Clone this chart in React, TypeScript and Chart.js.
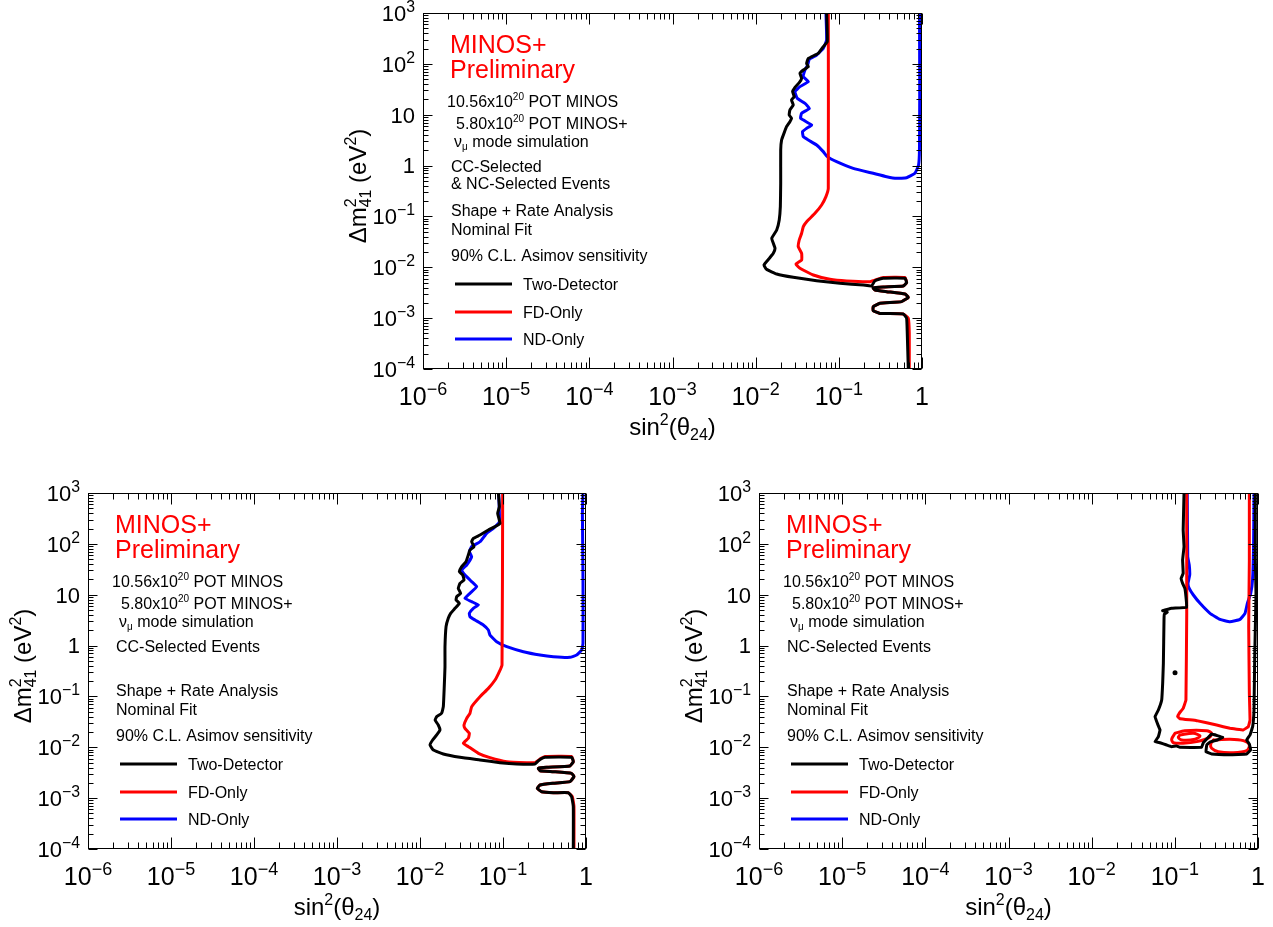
import React, { useEffect, useRef } from 'react';
import { Chart, registerables } from 'chart.js';

Chart.register(...registerables);

const FONT = '"Liberation Sans", Arial, Helvetica, sans-serif';

// Axis decades: sin^2(theta_24) from 1e-6 to 1, dm^2_41 from 1e-4 to 1e3
const X_DECADES = [-6, -5, -4, -3, -2, -1, 0];
const Y_DECADES = [-4, -3, -2, -1, 0, 1, 2, 3];

// ---- CC + NC combined analysis ----
const combTwoDetSin2 = [0.0713, 0.0726, 0.0650, 0.0566, 0.0430, 0.0410, 0.0430, 0.0374, 0.0341, 0.0357, 0.0334, 0.0297, 0.0278, 0.0291, 0.0270, 0.0283, 0.0258, 0.0253, 0.0270, 0.0258, 0.0235, 0.0219, 0.0205, 0.0200, 0.0200, 0.0198, 0.0192, 0.0179, 0.0156, 0.0163, 0.0171, 0.0163, 0.0146, 0.0126, 0.0135, 0.0179, 0.0283, 0.0541, 0.103, 0.197, 0.248, 0.272, 0.342, 0.624, 0.653, 0.595, 0.342, 0.259, 0.272, 0.376, 0.624, 0.684, 0.569, 0.312, 0.259, 0.259, 0.312, 0.595, 0.653, 0.665, 0.684];
const combTwoDetDm2 = [1000, 273, 218, 161, 128, 102, 88, 75.7, 65.2, 51.9, 42.7, 34.6, 28.4, 22.6, 19.5, 15.5, 12.4, 9.87, 8.49, 7.30, 5.82, 4.31, 3.18, 2.02, 0.447, 0.156, 0.0851, 0.0541, 0.0371, 0.0296, 0.0236, 0.0188, 0.0150, 0.0111, 0.00912, 0.00738, 0.00635, 0.00546, 0.00484, 0.00448, 0.00429, 0.00546, 0.00607, 0.00607, 0.00499, 0.00429, 0.00410, 0.00392, 0.00358, 0.00332, 0.00298, 0.00257, 0.00211, 0.00196, 0.00168, 0.00140, 0.00124, 0.00121, 0.000993, 0.000504, 0.0001];

const combFdSin2 = [0.0747, 0.0747, 0.0700, 0.0621, 0.0516, 0.0410, 0.0374, 0.0357, 0.0334, 0.0325, 0.0357, 0.0357, 0.0305, 0.0341, 0.0493, 0.0782, 0.124, 0.237, 0.342, 0.624, 0.653, 0.595, 0.342, 0.259, 0.272, 0.376, 0.624, 0.684, 0.569, 0.312, 0.259, 0.259, 0.312, 0.595, 0.684, 0.703, 0.703];
const combFdDm2 = [1000, 0.357, 0.245, 0.168, 0.115, 0.0789, 0.0629, 0.0466, 0.0344, 0.0255, 0.0188, 0.0139, 0.0116, 0.00955, 0.00706, 0.00580, 0.00538, 0.00522, 0.0063, 0.0063, 0.00499, 0.00429, 0.00410, 0.00392, 0.00358, 0.00332, 0.00298, 0.00257, 0.00211, 0.00196, 0.00168, 0.00140, 0.00124, 0.00121, 0.000993, 0.000504, 0.0001];

const combNdSin2 = [0.0700, 0.0713, 0.0650, 0.0541, 0.0442, 0.0422, 0.0392, 0.0374, 0.0430, 0.0341, 0.0297, 0.0316, 0.0392, 0.0442, 0.0357, 0.0347, 0.0471, 0.0410, 0.0366, 0.0374, 0.0430, 0.0541, 0.0650, 0.0726, 0.094, 0.149, 0.259, 0.376, 0.495, 0.653, 0.822, 0.910, 0.932, 0.938, 0.936, 0.932];
const combNdDm2 = [1000, 295, 202, 149, 123, 95, 75.7, 56, 44.7, 35.6, 28.4, 21, 16.7, 13.3, 10.65, 8.49, 6.28, 5.40, 4.64, 3.70, 3.18, 2.54, 1.88, 1.50, 1.19, 0.88, 0.704, 0.605, 0.561, 0.578, 0.704, 1.03, 2.02, 19.5, 187, 1000];

// ---- CC-selected events ----
const ccTwoDetSin2 = [0.0879, 0.0904, 0.0863, 0.0920, 0.0802, 0.0666, 0.0528, 0.0439, 0.0419, 0.0447, 0.0400, 0.0382, 0.0358, 0.0318, 0.0298, 0.0327, 0.0339, 0.0303, 0.0289, 0.0309, 0.0277, 0.0272, 0.0298, 0.0264, 0.0234, 0.0219, 0.0206, 0.0200, 0.0200, 0.0196, 0.0191, 0.0182, 0.0159, 0.0152, 0.0166, 0.0174, 0.0159, 0.0142, 0.0132, 0.0145, 0.0191, 0.0303, 0.0528, 0.0920, 0.146, 0.243, 0.267, 0.321, 0.671, 0.703, 0.641, 0.336, 0.267, 0.279, 0.404, 0.671, 0.716, 0.641, 0.404, 0.279, 0.259, 0.292, 0.404, 0.612, 0.671, 0.703, 0.703];
const ccTwoDetDm2 = [1000, 539, 398, 253, 218, 187, 149, 128, 110, 88, 75.7, 60.4, 44.7, 35.6, 28.4, 24.4, 19.5, 16.7, 13.3, 10.65, 9.16, 7.88, 6.77, 5.40, 4.31, 3.43, 2.35, 0.951, 0.385, 0.156, 0.0629, 0.0466, 0.0400, 0.0344, 0.0274, 0.0219, 0.0175, 0.0139, 0.0111, 0.00885, 0.00738, 0.00635, 0.00563, 0.00499, 0.00470, 0.00470, 0.00546, 0.00635, 0.00635, 0.00522, 0.00429, 0.00404, 0.00386, 0.00347, 0.00332, 0.00307, 0.00265, 0.00211, 0.00196, 0.00181, 0.00156, 0.00134, 0.00128, 0.00128, 0.00107, 0.000681, 0.0001];

const ccFdSin2 = [0.0991, 0.0973, 0.0904, 0.0802, 0.0666, 0.0528, 0.0419, 0.0400, 0.0365, 0.0339, 0.0348, 0.0393, 0.0382, 0.0333, 0.0382, 0.0505, 0.0697, 0.111, 0.193, 0.243, 0.284, 0.321, 0.671, 0.703, 0.641, 0.336, 0.267, 0.279, 0.404, 0.671, 0.716, 0.641, 0.404, 0.279, 0.259, 0.292, 0.404, 0.612, 0.684, 0.716, 0.716];
const ccFdDm2 = [1000, 0.415, 0.307, 0.210, 0.144, 0.0989, 0.0629, 0.0466, 0.0371, 0.0274, 0.0236, 0.0188, 0.0150, 0.0120, 0.0103, 0.00761, 0.00626, 0.00522, 0.00499, 0.00499, 0.00598, 0.0066, 0.0066, 0.00522, 0.00429, 0.00404, 0.00386, 0.00347, 0.00332, 0.00307, 0.00265, 0.00211, 0.00196, 0.00181, 0.00156, 0.00134, 0.00128, 0.00128, 0.00107, 0.000681, 0.0001];

const ccNdSin2 = [0.920, 0.905, 0.920, 0.920, 0.887, 0.772, 0.641, 0.404, 0.279, 0.176, 0.111, 0.0839, 0.0697, 0.0666, 0.0579, 0.0460, 0.0400, 0.0393, 0.0439, 0.0505, 0.0419, 0.0348, 0.0400, 0.0482, 0.0419, 0.0348, 0.0318, 0.0365, 0.0419, 0.0393, 0.0419, 0.0528, 0.0635, 0.0765, 0.0904, 0.0888];
const ccNdDm2 = [1000, 398, 19.5, 1.11, 0.818, 0.653, 0.587, 0.605, 0.653, 0.758, 0.951, 1.19, 1.61, 2.02, 2.54, 3.18, 3.70, 4.31, 5.40, 6.28, 7.30, 8.49, 10.65, 14.4, 18.1, 24.4, 30.6, 38.4, 56, 70.3, 88, 110, 161, 202, 273, 1000];

// ---- NC-selected events ----
const ncTwoDetSin2 = [0.129, 0.126, 0.129, 0.124, 0.126, 0.119, 0.124, 0.132, 0.136, 0.139, 0.0916, 0.0714, 0.0813, 0.0748, 0.0741, 0.0728, 0.0714, 0.0695, 0.0634, 0.0578, 0.0616, 0.0664, 0.0634, 0.0578, 0.0664, 0.0798, 0.0916, 0.105, 0.115, 0.210, 0.220, 0.277, 0.376, 0.324, 0.265, 0.242, 0.237, 0.277, 0.460, 0.731, 0.817, 0.787, 0.731, 0.802, 0.863, 0.895, 0.912, 0.929, 0.946, 0.929, 0.929];
const ncTwoDetDm2 = [1000, 187, 88, 48.2, 26.3, 21, 16.7, 13.3, 9.16, 5.65, 5.40, 4.86, 4.50, 4.18, 3.18, 0.447, 0.181, 0.0851, 0.0541, 0.0400, 0.0296, 0.0219, 0.0162, 0.0129, 0.0123, 0.0111, 0.0103, 0.0106, 0.00998, 0.00998, 0.0123, 0.0182, 0.0157, 0.0139, 0.0127, 0.0111, 0.00820, 0.00738, 0.00716, 0.00738, 0.00885, 0.0116, 0.0139, 0.0175, 0.0255, 0.0541, 0.520, 2.35, 10.65, 48.2, 1000];
const ncTwoDetIslandSin2 = [0.1005];
const ncTwoDetIslandDm2 = [0.293];

const ncFdSin2 = [0.139, 0.139, 0.136, 0.126, 0.113, 0.108, 0.115, 0.183, 0.318, 0.460, 0.667, 0.766, 0.802, 0.787, 0.773, 0.787, 0.787];
const ncFdDm2 = [1000, 4.31, 0.0851, 0.0584, 0.0466, 0.0400, 0.0365, 0.0334, 0.0274, 0.0236, 0.0219, 0.0255, 0.0344, 0.115, 2.35, 48.2, 1000];
const ncFdLoopOuterSin2 = [0.1005, 0.132, 0.242, 0.277, 0.260, 0.183, 0.126, 0.0960, 0.0916, 0.1005];
const ncFdLoopOuterDm2 = [0.0188, 0.0212, 0.0212, 0.0188, 0.0157, 0.0129, 0.0120, 0.0123, 0.0144, 0.0188];
const ncFdLoopInnerSin2 = [0.115, 0.167, 0.201, 0.175, 0.121, 0.110, 0.115];
const ncFdLoopInnerDm2 = [0.0175, 0.0188, 0.0167, 0.0144, 0.0139, 0.0157, 0.0175];
const ncFdLoopLowSin2 = [0.290, 0.460, 0.667, 0.787, 0.731, 0.505, 0.333, 0.277, 0.270, 0.290];
const ncFdLoopLowDm2 = [0.0139, 0.0144, 0.0135, 0.0111, 0.00859, 0.00783, 0.00820, 0.00955, 0.0116, 0.0139];

const ncNdSin2 = [0.896, 0.884, 0.860, 0.817, 0.745, 0.698, 0.608, 0.460, 0.349, 0.265, 0.201, 0.167, 0.149, 0.144, 0.151, 0.149, 0.143, 0.141];
const ncNdDm2 = [1000, 88, 19.5, 10.65, 6.77, 4.31, 3.28, 2.95, 3.28, 4.31, 6.77, 9.87, 13.3, 16.7, 24.4, 38.4, 56, 1000];

const LEGEND_LABELS = ['Two-Detector', 'FD-Only', 'ND-Only'];
const LEGEND_COLORS = ['#000000', '#ff0000', '#0000ff'];

const pts = (xs: number[], ys: number[]) => xs.map((x, i) => ({ x, y: ys[i] }));

const curve = (xs: number[], ys: number[], color: string, tension = 0.12) => ({
  data: pts(xs, ys),
  showLine: true,
  borderColor: color,
  backgroundColor: color,
  borderWidth: 3,
  pointRadius: 0,
  tension,
  fill: false,
  borderJoinStyle: 'round',
  borderCapStyle: 'round',
});

type Run = { t: string; s: number; dy?: number; stay?: boolean };

function runsWidth(ctx: CanvasRenderingContext2D, runs: Run[]) {
  let w = 0;
  let held = 0;
  for (const r of runs) {
    ctx.font = `${r.s}px ${FONT}`;
    const rw = ctx.measureText(r.t).width;
    if (r.stay) { held = Math.max(held, rw); continue; }
    w += Math.max(rw, held);
    held = 0;
  }
  return w + held;
}

function drawRuns(ctx: CanvasRenderingContext2D, runs: Run[], x: number, y: number, align: 'left' | 'right' | 'center') {
  const total = runsWidth(ctx, runs);
  let cx = align === 'left' ? x : align === 'right' ? x - total : x - total / 2;
  let held = 0;
  ctx.textAlign = 'left';
  ctx.textBaseline = 'alphabetic';
  for (const r of runs) {
    ctx.font = `${r.s}px ${FONT}`;
    const rw = ctx.measureText(r.t).width;
    ctx.fillText(r.t, cx, y + (r.dy || 0));
    if (r.stay) { held = Math.max(held, rw); continue; }
    cx += Math.max(rw, held);
    held = 0;
  }
}

const XF = 25; // x tick label size
const YF = 22; // y tick label size

function decadeLabel(d: number, size: number): Run[] {
  if (d === 0) return [{ t: '1', s: size }];
  if (d === 1) return [{ t: '10', s: size }];
  const exp = d < 0 ? '\u2212' + String(-d) : String(d);
  return [{ t: '10', s: size }, { t: exp, s: size * 0.72, dy: -size * 0.42 }];
}

type PanelSpec = {
  key: string;
  canvas: { left: number; top: number; w: number; h: number };
  plot: { x: number; y: number; w: number; h: number };
  selection: string[];
  datasets: any[];
};

function makeDecorPlugin(spec: PanelSpec) {
  return {
    id: 'decor_' + spec.key,
    afterDraw(chart: any) {
      const ctx: CanvasRenderingContext2D = chart.ctx;
      const a = chart.chartArea;
      const xs = chart.scales.x;
      const ys = chart.scales.y;
      ctx.save();

      // frame
      ctx.strokeStyle = '#000';
      ctx.lineWidth = 1;
      const L = Math.round(a.left) + 0.5;
      const R = Math.round(a.right) - 0.5;
      const T = Math.round(a.top) + 0.5;
      const B = Math.round(a.bottom) - 0.5;
      ctx.strokeRect(L, T, R - L, B - T);

      // ticks, drawn inward on all four sides
      ctx.beginPath();
      for (const d of X_DECADES) {
        for (let k = 1; k <= 9; k++) {
          if (d === 0 && k > 1) break;
          const X = Math.round(xs.getPixelForValue(k * Math.pow(10, d))) + 0.5;
          const len = k === 1 ? 11 : 6;
          ctx.moveTo(X, B); ctx.lineTo(X, B - len);
          ctx.moveTo(X, T); ctx.lineTo(X, T + len);
        }
      }
      for (const d of Y_DECADES) {
        for (let k = 1; k <= 9; k++) {
          if (d === 3 && k > 1) break;
          const Y = Math.round(ys.getPixelForValue(k * Math.pow(10, d))) + 0.5;
          const len = k === 1 ? 9 : 5;
          ctx.moveTo(L, Y); ctx.lineTo(L + len, Y);
          ctx.moveTo(R, Y); ctx.lineTo(R - len, Y);
        }
      }
      ctx.stroke();

      // tick labels
      ctx.fillStyle = '#000';
      for (const d of X_DECADES) {
        const X = xs.getPixelForValue(Math.pow(10, d));
        drawRuns(ctx, decadeLabel(d, XF), X, a.bottom + 36, 'center');
      }
      for (const d of Y_DECADES) {
        const Y = ys.getPixelForValue(Math.pow(10, d));
        drawRuns(ctx, decadeLabel(d, YF), a.left - 8, Y + YF * 0.36, 'right');
      }

      // axis titles
      drawRuns(ctx, [
        { t: 'sin', s: 24 },
        { t: '2', s: 16, dy: -10 },
        { t: '(\u03b8', s: 24 },
        { t: '24', s: 16, dy: 5 },
        { t: ')', s: 24 },
      ], (a.left + a.right) / 2, a.bottom + 66, 'center');

      ctx.save();
      ctx.translate(a.left - 57, a.top + 173);
      ctx.rotate(-Math.PI / 2);
      drawRuns(ctx, [
        { t: '\u0394m', s: 24 },
        { t: '2', s: 16, dy: -10, stay: true },
        { t: '41', s: 16, dy: 5 },
        { t: ' (eV', s: 24 },
        { t: '2', s: 16, dy: -10 },
        { t: ')', s: 24 },
      ], 0, 0, 'center');
      ctx.restore();

      // annotation block
      const px = a.left;
      const py = a.top;
      ctx.fillStyle = '#ff0000';
      ctx.font = `25px ${FONT}`;
      ctx.fillText('MINOS+', px + 27, py + 40);
      ctx.fillText('Preliminary', px + 27, py + 65);

      ctx.fillStyle = '#000';
      drawRuns(ctx, [{ t: '10.56x10', s: 16 }, { t: '20', s: 10, dy: -7 }, { t: ' POT MINOS', s: 16 }], px + 24, py + 94, 'left');
      drawRuns(ctx, [{ t: '5.80x10', s: 16 }, { t: '20', s: 10, dy: -7 }, { t: ' POT MINOS+', s: 16 }], px + 33, py + 116, 'left');
      drawRuns(ctx, [{ t: '\u03bd', s: 16 }, { t: '\u03bc', s: 10, dy: 3 }, { t: ' mode simulation', s: 16 }], px + 31, py + 134, 'left');
      ctx.font = `16px ${FONT}`;
      spec.selection.forEach((line, i) => ctx.fillText(line, px + 28, py + 159 + i * 17));
      ctx.fillText('Shape + Rate Analysis', px + 28, py + 203);
      ctx.fillText('Nominal Fit', px + 28, py + 222);
      ctx.fillText('90% C.L. Asimov sensitivity', px + 28, py + 248);

      // legend
      const legendY = [271, 299, 326];
      LEGEND_LABELS.forEach((label, i) => {
        ctx.strokeStyle = LEGEND_COLORS[i];
        ctx.lineWidth = 3;
        ctx.beginPath();
        ctx.moveTo(px + 32, py + legendY[i]);
        ctx.lineTo(px + 89, py + legendY[i]);
        ctx.stroke();
        ctx.fillStyle = '#000';
        ctx.font = `16px ${FONT}`;
        ctx.fillText(label, px + 100, py + legendY[i] + 6);
      });

      ctx.restore();
    },
  };
}

const PANELS: PanelSpec[] = [
  {
    key: 'combined',
    canvas: { left: 330, top: 0, w: 630, h: 450 },
    plot: { x: 423, y: 13, w: 499, h: 356 },
    selection: ['CC-Selected', '& NC-Selected Events'],
    datasets: [
      curve(combTwoDetSin2, combTwoDetDm2, '#000000'),
      curve(combFdSin2, combFdDm2, '#ff0000'),
      curve(combNdSin2, combNdDm2, '#0000ff'),
    ],
  },
  {
    key: 'cc',
    canvas: { left: 0, top: 460, w: 636, h: 467 },
    plot: { x: 88, y: 493, w: 498, h: 356 },
    selection: ['CC-Selected Events'],
    datasets: [
      curve(ccTwoDetSin2, ccTwoDetDm2, '#000000'),
      curve(ccFdSin2, ccFdDm2, '#ff0000'),
      curve(ccNdSin2, ccNdDm2, '#0000ff'),
    ],
  },
  {
    key: 'nc',
    canvas: { left: 636, top: 460, w: 637, h: 467 },
    plot: { x: 759, y: 493, w: 499, h: 356 },
    selection: ['NC-Selected Events'],
    datasets: [
      curve(ncTwoDetSin2, ncTwoDetDm2, '#000000', 0.05),
      { data: pts(ncTwoDetIslandSin2, ncTwoDetIslandDm2), showLine: false, pointRadius: 2.5, borderWidth: 0, backgroundColor: '#000000', borderColor: '#000000' },
      curve(ncFdSin2, ncFdDm2, '#ff0000', 0.05),
      curve(ncFdLoopOuterSin2, ncFdLoopOuterDm2, '#ff0000', 0.3),
      curve(ncFdLoopInnerSin2, ncFdLoopInnerDm2, '#ff0000', 0.3),
      curve(ncFdLoopLowSin2, ncFdLoopLowDm2, '#ff0000', 0.3),
      curve(ncNdSin2, ncNdDm2, '#0000ff'),
    ],
  },
];

function Panel({ spec }: { spec: PanelSpec }) {
  const ref = useRef<HTMLCanvasElement>(null);
  useEffect(() => {
    const c = spec.canvas;
    const p = spec.plot;
    const chart = new Chart(ref.current as HTMLCanvasElement, {
      type: 'scatter',
      data: { datasets: spec.datasets },
      options: {
        responsive: false,
        animation: false,
        devicePixelRatio: 1,
        events: [],
        layout: {
          padding: {
            left: p.x - c.left,
            top: p.y - c.top,
            right: c.left + c.w - (p.x + p.w),
            bottom: c.top + c.h - (p.y + p.h),
          },
        },
        plugins: { legend: { display: false }, tooltip: { enabled: false }, title: { display: false } },
        scales: {
          x: { type: 'logarithmic', min: 1e-6, max: 1, display: false },
          y: { type: 'logarithmic', min: 1e-4, max: 1e3, display: false },
        },
      } as any,
      plugins: [makeDecorPlugin(spec)],
    });
    return () => chart.destroy();
  }, [spec]);
  const c = spec.canvas;
  return (
    <canvas
      ref={ref}
      width={c.w}
      height={c.h}
      style={{ position: 'absolute', left: c.left, top: c.top, width: c.w, height: c.h }}
    />
  );
}

export default function App() {
  return (
    <div style={{ position: 'absolute', left: 0, top: 0, width: 1273, height: 927, background: '#ffffff' }}>
      {PANELS.map((s) => (
        <Panel key={s.key} spec={s} />
      ))}
    </div>
  );
}
